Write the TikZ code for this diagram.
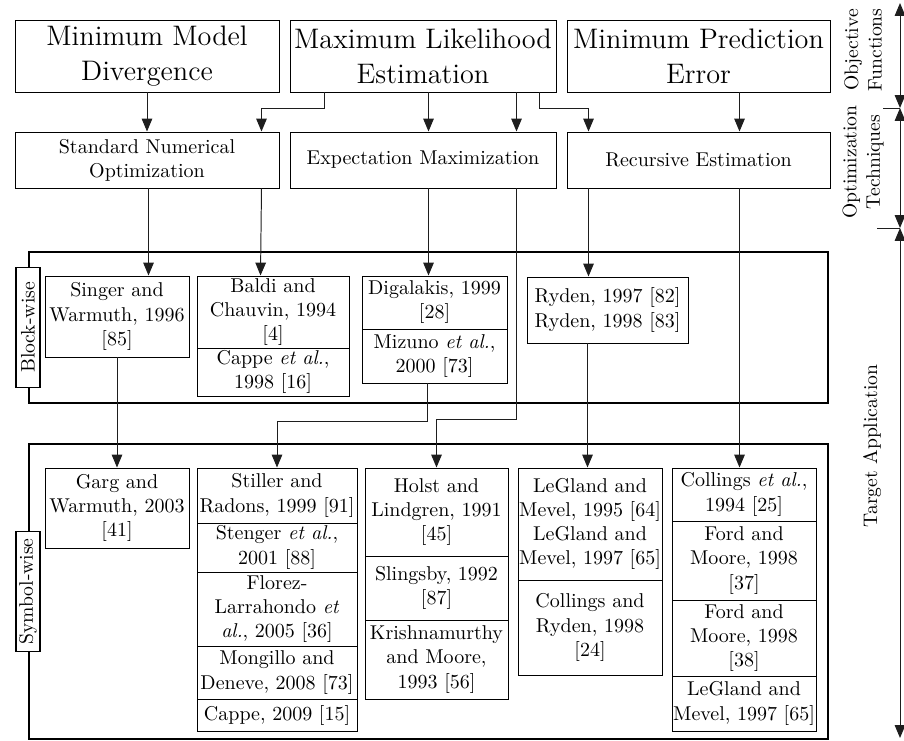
\documentclass[tikz,border=0pt]{standalone}
\usepackage{amsmath,amssymb}
\usepackage{xcolor}
\usepackage{tikz}
\usetikzlibrary{calc,arrows.meta,positioning}
\definecolor{linex}{HTML}{1E1E1E}
\tikzset{
  ar/.style={-{Triangle[length=6.6pt,width=5.4pt]},line width=0.5pt,linex},
  dar/.style={{Triangle[length=6.6pt,width=5.4pt]}-{Triangle[length=6.6pt,width=5.4pt]},line width=0.5pt,linex},
  box/.style={draw,line width=0.5pt,align=center,inner sep=0pt,font=\fontsize{10.2}{12.3}\selectfont},
  frm/.style={draw,line width=1pt,inner sep=0pt},
  tag/.style={draw,line width=0.9pt,fill=white,rotate=90,inner sep=0pt,minimum width=61.2pt,minimum height=12.2pt},
  side/.style={rotate=90,align=center,inner sep=0pt}
}
\newcommand{\bx}[7][]{\node[box,#1,minimum width={(#5-#3)*0.51pt},minimum height={(#6-#4)*0.51pt}] (#2) at ({(#3+#5)/2},{(#4+#6)/2}) {#7};}

\begin{document}
\begin{tikzpicture}[x=0.51pt,y=-0.51pt]
\useasboundingbox (0,0) rectangle (904,741);
\bx[font=\Large]{mmd}{15}{20}{279}{92}{Minimum Model\\Divergence}
\bx[font=\Large]{mle}{290}{20}{556}{92}{Maximum Likelihood\\Estimation}
\bx[font=\Large]{mpe}{567}{20}{830}{92}{Minimum Prediction\\Error}
\bx{sno}{15}{132}{279}{188}{Standard Numerical\\Optimization}
\bx{em}{290}{132}{556}{188}{Expectation Maximization}
\bx{re}{567}{132}{830}{188}{Recursive Estimation}
\bx[frm]{blk}{29}{252}{828}{403}{}
\bx[frm]{sym}{29}{444}{828}{739}{}
\node[tag] (bw) at (blk.west) {Block-wise};
\node[tag] (sw) at (sym.west) {Symbol-wise};
\bx{singer}{45}{276}{189}{357}{Singer and\\Warmuth, 1996\\{[85]}}
\bx{baldi}{197}{276}{349}{348}{Baldi and\\Chauvin, 1994\\{[4]}}
\bx{cappeA}{197}{348}{349}{396}{Cappe \emph{et al.},\\1998 [16]}
\bx{digal}{362}{276}{507}{329}{Digalakis, 1999\\{[28]}}
\bx{mizuno}{362}{329}{507}{383}{Mizuno \emph{et al.},\\2000 [73]}
\bx{ryden}{527}{277}{688}{343}{Ryden, 1997 [82]\\Ryden, 1998 [83]}
\bx{garg}{45}{468}{189}{548}{Garg and\\Warmuth, 2003\\{[41]}}
\bx{stiller}{197}{468}{357}{523}{Stiller and\\Radons, 1999 [91]}
\bx{stenger}{197}{523}{357}{572}{Stenger \emph{et al.},\\2001 [88]}
\bx{florez}{197}{572}{357}{646}{Florez-\\Larrahondo \emph{et}\\\emph{al.}, 2005 [36]}
\bx{mong}{197}{646}{357}{699}{Mongillo and\\Deneve, 2008 [73]}
\bx{cappeB}{197}{699}{357}{731}{Cappe, 2009 [15]}
\bx{holst}{365}{468}{508}{556}{Holst and\\Lindgren, 1991\\{[45]}}
\bx{sling}{365}{556}{508}{620}{Slingsby, 1992\\{[87]}}
\bx{krish}{365}{620}{508}{699}{Krishnamurthy\\and Moore,\\1993 [56]}
\bx{leglA}{518}{468}{662}{580}{LeGland and\\Mevel, 1995 [64]\\LeGland and\\Mevel, 1997 [65]}
\bx{collry}{518}{580}{662}{675}{Collings and\\Ryden, 1998\\{[24]}}
\bx{collA}{672}{468}{816}{521}{Collings \emph{et al.},\\1994 [25]}
\bx{fordA}{672}{521}{816}{600}{Ford and\\Moore, 1998\\{[37]}}
\bx{fordB}{672}{600}{816}{676}{Ford and\\Moore, 1998\\{[38]}}
\bx{leglB}{672}{676}{816}{731}{LeGland and\\Mevel, 1997 [65]}
\draw[ar] (mmd.south) -- (sno.north);
\draw[ar] ($(mle.south west)+(35,0)$) -- ++(0,16) -| ($(sno.north east)+(-18,0)$);
\draw[ar] ($(mle.south west)+(139,0)$) -- ($(em.north west)+(139,0)$);
\draw[ar] ($(mle.south west)+(227,0)$) -- ($(em.north west)+(227,0)$);
\draw[ar] ($(mle.south west)+(250,0)$) -- ++(0,16) -| ($(re.north west)+(22,0)$);
\draw[ar] ($(mpe.south west)+(173,0)$) -- ($(re.north west)+(173,0)$);
\draw[ar] ($(sno.south west)+(134,0)$) -- ($(singer.north west)+(104,0)$);
\draw[ar] ($(sno.south east)+(-18,0)$) -- ($(baldi.north west)+(64,0)$);
\draw[ar] ($(em.south west)+(139,0)$) -- ($(digal.north west)+(67,0)$);
\draw[ar] ($(re.south west)+(22,0)$) -- ($(ryden.north west)+(62,0)$);
\draw[ar] (singer.south) -- (garg.north);
\draw[ar] ($(mizuno.south west)+(66,0)$) -- ++(0,38) -| (stiller.north);
\draw[ar] ($(em.south west)+(227,0)$) -- ++(0,231) -| (holst.north);
\draw[ar] ($(ryden.south west)+(61,0)$) -- ($(leglA.north west)+(70,0)$);
\draw[ar] ($(re.south west)+(173,0)$) -- ($(collA.north west)+(68,0)$);
\node[side] (objf) at (863,50) {Objective\\Functions};
\node[side] (optt) at (863,162) {Optimization\\Techniques};
\node[side] (tapp) at (872,446) {Target Application};
\coordinate (ax0) at (900,3);
\coordinate (ax1) at (900,108);
\coordinate (ax2) at (900,228);
\coordinate (ax3) at (900,738);
\draw[dar] (ax0) -- (ax1);
\draw[dar] (ax1) -- (ax2);
\draw[dar] (ax2) -- (ax3);
\draw[line width=0.5pt,linex] (883,108) -- (ax1);
\draw[line width=0.5pt,linex] (877,228) -- (ax2);
\end{tikzpicture}
\end{document}
